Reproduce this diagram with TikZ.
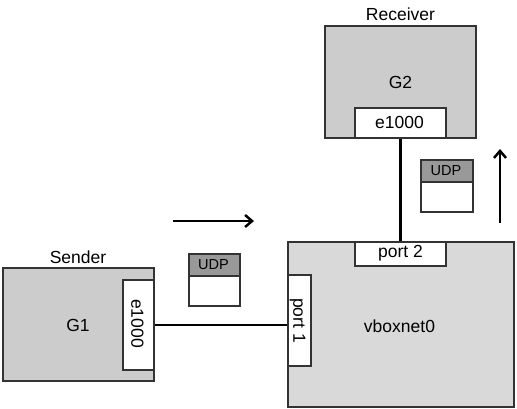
\documentclass[tikz,border=0pt]{standalone}
\usepackage{fontspec}
\setmainfont{Liberation Sans}
\usetikzlibrary{arrows.meta}
\definecolor{bordc}{HTML}{333333}
\definecolor{hostc}{HTML}{CCCCCC}
\definecolor{netc}{HTML}{D9D9D9}
\definecolor{hdrc}{HTML}{999999}
\tikzset{
  box/.style={draw=bordc, line width=2pt, inner sep=0pt, anchor=north west},
  host/.style={box, fill=hostc},
  net/.style={box, fill=netc},
  port/.style={box, fill=white},
  lbl/.style={font=\fontsize{17.5}{19}\selectfont, inner sep=0pt},
  udpf/.style={font=\fontsize{14.5}{16}\selectfont, inner sep=0pt},
  wire/.style={line width=2.5pt, black},
  flow/.style={line width=2.5pt, black, -{Straight Barb[length=7pt,width=12pt]}}
}
\begin{document}
\begin{tikzpicture}[x=1pt,y=-1pt]
\useasboundingbox (0,0) rectangle (517,408);
% Sender / G1
\node[host, minimum width=151pt, minimum height=113pt] (g1) at (2,267) {};
\node[lbl] (g1t) at (78,325) {G1};
\node[lbl, anchor=base] (snd) at (78,263.5) {Sender};
\node[port, minimum width=31pt, minimum height=90pt] (e1) at (122,279) {};
\node[lbl, rotate=-90] (e1t) at (137.5,323.5) {e1000};
% Receiver / G2
\node[host, minimum width=151pt, minimum height=112pt] (g2) at (324,25) {};
\node[lbl] (g2t) at (400.5,82) {G2};
\node[lbl, anchor=base] (rcv) at (400.5,20) {Receiver};
\node[port, minimum width=91pt, minimum height=30pt] (e2) at (354,107) {};
\node[lbl] (e2t) at (399.5,122) {e1000};
% vboxnet0
\node[net, minimum width=226pt, minimum height=165pt] (vb) at (287,241) {};
\node[lbl] (vbt) at (399.5,326) {vboxnet0};
\node[port, minimum width=91pt, minimum height=24pt] (p2) at (354,241) {};
\node[lbl] (p2t) at (400.5,253) {port 2};
\node[port, minimum width=23pt, minimum height=91pt] (p1) at (287,274) {};
\node[lbl, rotate=-90] (p1t) at (297.5,320.5) {port 1};
% wires
\draw[wire] (e1.east) -- (e1.east -| p1.west);
\draw[wire] (e2.south) -- (p2.north);
% UDP packets
\node[box, fill=hdrc, minimum width=51pt, minimum height=22pt] (u1h) at (188,253) {};
\node[box, fill=white, minimum width=51pt, minimum height=30pt] (u1b) at (188,275) {};
\node[udpf] (u1t) at (213.5,264.5) {UDP};
\node[box, fill=hdrc, minimum width=52pt, minimum height=22pt] (u2h) at (420,159) {};
\node[box, fill=white, minimum width=52pt, minimum height=30pt] (u2b) at (420,181) {};
\node[udpf] (u2t) at (446,170.5) {UDP};
% flow arrows
\coordinate (a1s) at (173,221);
\coordinate (a1e) at (254,221);
\coordinate (a2s) at (500,223);
\coordinate (a2e) at (500,149);
\draw[flow] (a1s) -- (a1e);
\draw[flow] (a2s) -- (a2e);
\end{tikzpicture}
\end{document}
